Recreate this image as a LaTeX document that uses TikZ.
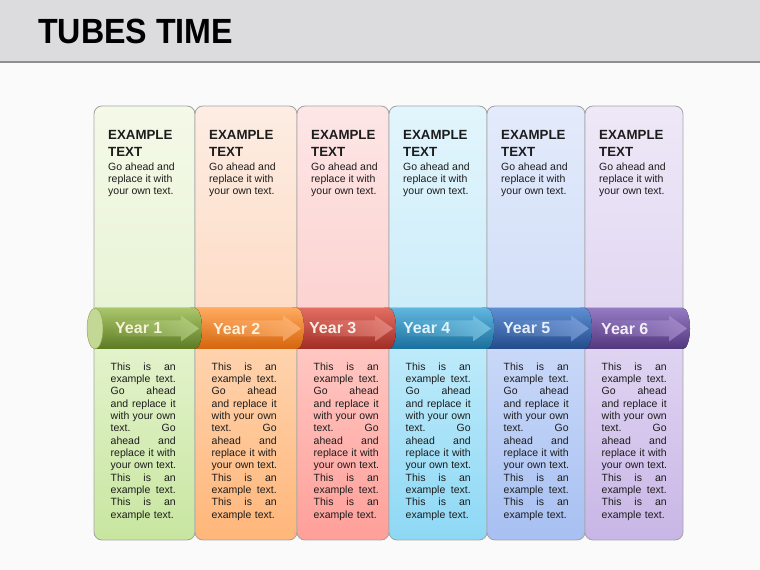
\documentclass[tikz,border=0pt]{standalone}
\usepackage{fontspec}
\setmainfont{Liberation Sans}
\usetikzlibrary{positioning,fadings}

% page colours
\definecolor{pageback}{HTML}{FAFAFB}
\definecolor{barfill}{HTML}{DCDBDD}
\definecolor{barline}{HTML}{8E8E90}
\definecolor{textdark}{HTML}{1C1C1C}
\definecolor{panelline}{HTML}{A6A6A8}

% panel colours: upper part (top/bottom), lower part (top/bottom)
\definecolor{upA1}{HTML}{F4F9E8}\definecolor{upB1}{HTML}{E8F4D6}
\definecolor{upA2}{HTML}{FDEDE3}\definecolor{upB2}{HTML}{FDDCC6}
\definecolor{upA3}{HTML}{FDE6E6}\definecolor{upB3}{HTML}{FCD3D1}
\definecolor{upA4}{HTML}{E2F5FC}\definecolor{upB4}{HTML}{CDEDFA}
\definecolor{upA5}{HTML}{E3EAFB}\definecolor{upB5}{HTML}{D2DFF8}
\definecolor{upA6}{HTML}{EEE8F7}\definecolor{upB6}{HTML}{E2D8F2}
\definecolor{loA1}{HTML}{E8F5D4}\definecolor{loB1}{HTML}{C8E6A0}
\definecolor{loA2}{HTML}{FFD9B9}\definecolor{loB2}{HTML}{FFB679}
\definecolor{loA3}{HTML}{FFCFCB}\definecolor{loB3}{HTML}{FF9F99}
\definecolor{loA4}{HTML}{C7EEFB}\definecolor{loB4}{HTML}{8ED8F5}
\definecolor{loA5}{HTML}{D0DDF9}\definecolor{loB5}{HTML}{A7C0F2}
\definecolor{loA6}{HTML}{E4DAF4}\definecolor{loB6}{HTML}{C8B6E6}

% tube colours: top, middle, bottom, arrow, label
\definecolor{tubeA1}{HTML}{ABC66A}\definecolor{tubeB1}{HTML}{7F9E3A}\definecolor{tubeC1}{HTML}{5B7A22}
\definecolor{tubeA2}{HTML}{FFAA5E}\definecolor{tubeB2}{HTML}{F7821F}\definecolor{tubeC2}{HTML}{D5640C}
\definecolor{tubeA3}{HTML}{E26E62}\definecolor{tubeB3}{HTML}{C9443B}\definecolor{tubeC3}{HTML}{A02C25}
\definecolor{tubeA4}{HTML}{5FB6DE}\definecolor{tubeB4}{HTML}{2D92C4}\definecolor{tubeC4}{HTML}{1A6E9C}
\definecolor{tubeA5}{HTML}{5E8ED2}\definecolor{tubeB5}{HTML}{3366B0}\definecolor{tubeC5}{HTML}{234B8B}
\definecolor{tubeA6}{HTML}{957BC1}\definecolor{tubeB6}{HTML}{6E4E9F}\definecolor{tubeC6}{HTML}{52367E}
\definecolor{arrowcol1}{HTML}{BAD48A}\definecolor{labcol1}{HTML}{F6F2D6}
\definecolor{arrowcol2}{HTML}{FFBB80}\definecolor{labcol2}{HTML}{FBF1DC}
\definecolor{arrowcol3}{HTML}{EC948C}\definecolor{labcol3}{HTML}{FBEDE6}
\definecolor{arrowcol4}{HTML}{86CEEA}\definecolor{labcol4}{HTML}{E2F4FB}
\definecolor{arrowcol5}{HTML}{86A8DF}\definecolor{labcol5}{HTML}{E6EEFB}
\definecolor{arrowcol6}{HTML}{AC95D3}\definecolor{labcol6}{HTML}{F3EEFA}
\definecolor{capfill}{HTML}{C3D894}
\definecolor{capline}{HTML}{8FAA55}

\tikzfading[name=fade in right, left color=transparent!100, right color=transparent!15]

\newcommand{\jline}[1]{\makebox[65pt][s]{\spaceskip=0.28em plus 1fil\xspaceskip=0.28em plus 1fil\relax #1}\\}
\newcommand{\bodylines}{\jline{This is an}\jline{example text.}\jline{Go ahead}%
  \jline{and replace it}\jline{with your own}\jline{text. Go}\jline{ahead and}%
  \jline{replace it with}\jline{your own text.}\jline{This is an}%
  \jline{example text.}\jline{This is an}\makebox[65pt][l]{example text.}}

\begin{document}
\begin{tikzpicture}[x=1pt, y=1pt,
    panel/.style = {draw=panelline, line width=0.8pt, rounded corners=8pt},
    headtext/.style = {anchor=north west, inner sep=0pt, align=left, text=textdark,
      font=\bfseries\fontsize{13.3}{16.5}\selectfont},
    notetext/.style = {inner sep=0pt, align=left, text=textdark,
      font=\fontsize{10.5}{12.3}\selectfont},
    bodytext/.style = {anchor=north west, inner sep=0pt, align=left, text width=66pt,
      text=textdark, font=\fontsize{10.5}{12.33}\selectfont},
    yearlabel/.style = {anchor=west, inner sep=0pt, font=\bfseries\fontsize{16}{16}\selectfont}]

    \useasboundingbox (0,0) rectangle (760,570);
    \fill[pageback] (0,0) rectangle (760,570);

    % title bar
    \fill[barfill] (0,508) rectangle (760,570);
    \draw[barline, line width=1.5pt] (0,508) -- (760,508);
    \node[anchor=base west, inner sep=0pt, text=black,
      font=\bfseries\fontsize{35}{35}\selectfont] (title) at (38,526)
      {\scalebox{0.92}[1]{TUBES TIME}};

    % panels
    \foreach \i/\xl/\xr in {1/94/195, 2/195/297, 3/297/389, 4/389/487, 5/487/585, 6/585/683} {
      \begin{scope}
        \clip[rounded corners=8pt] (\xl,30) rectangle (\xr,464);
        \fill[top color=upA\i, bottom color=upB\i] (\xl,262) rectangle (\xr,464);
        \fill[top color=loA\i, bottom color=loB\i] (\xl,30) rectangle (\xr,262);
      \end{scope}
      \draw[panel] (\xl,30) rectangle (\xr,464);
      \node[headtext] (head\i) at (\xl+14,439.5) {EXAMPLE\\TEXT};
      \node[notetext, below=5.8pt of head\i.south west, anchor=north west] (note\i)
        {Go ahead and\\replace it with\\your own text.};
      \node[bodytext] (body\i) at (\xl+16.5,207.5) {\bodylines};
    }

    % tubes, drawn right to left so each end lies over the next one
    \foreach \i/\xl/\xr in {6/580/683, 5/482/585, 4/384/487, 3/292/389, 2/190/297, 1/95/195} {
      \fill[top color=tubeA\i, middle color=tubeB\i, bottom color=tubeC\i]
        (\xl,262) -- (\xr,262) arc[start angle=90, end angle=-90, x radius=7, y radius=20.5]
        -- (\xl,221) -- cycle;
      \fill[arrowcol\i, path fading=fade in right, fill opacity=0.85]
        (\xl+15,249.5) -- (\xr-14,249.5) -- (\xr-14,254.5) -- (\xr+4,241.5)
        -- (\xr-14,228.5) -- (\xr-14,233.5) -- (\xl+15,233.5) -- cycle;
    }
    \filldraw[fill=capfill, draw=capline, line width=0.5pt] (95,241.5) ellipse [x radius=8, y radius=20.5];

    % year labels
    \foreach \i/\lx in {1/115, 2/213, 3/309, 4/403, 5/503, 6/601} {
      \node[yearlabel, text=labcol\i] (year\i) at (\lx,241.5) {Year \i};
    }
\end{tikzpicture}
\end{document}
